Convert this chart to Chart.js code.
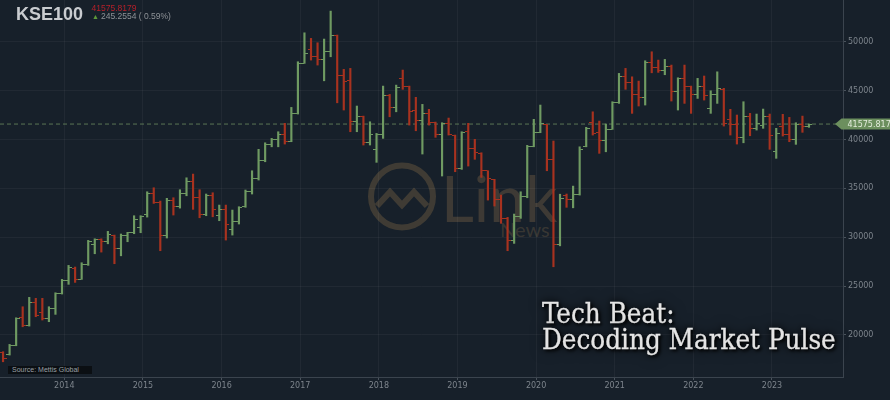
<!DOCTYPE html>
<html>
<head>
<meta charset="utf-8">
<script src="https://cdn.jsdelivr.net/npm/chart.js@4.4.0/dist/chart.umd.min.js"></script>
<style>
  html, body { margin:0; padding:0; background:#17202a; width:890px; height:400px; overflow:hidden; }
  #wrap { position:relative; width:890px; height:400px; }
  #c { position:absolute; left:0; top:0; z-index:2; }
  #wm { position:absolute; left:0; top:0; z-index:1; }
  .ov { position:absolute; z-index:3; white-space:nowrap; }
  #ttl { left:16px; top:5px; font:bold 18px/18px "Liberation Sans", Arial, sans-serif; color:#c9ccd0; }
  #px { left:91.5px; top:3.5px; font:8.5px/8.5px "Liberation Sans", Arial, sans-serif; color:#b5202a; }
  #chg { left:92px; top:12.3px; font:8.5px/8.5px "Liberation Sans", Arial, sans-serif; color:#8e9297; }
  #chg b { color:#5f9a3a; font-weight:normal; font-size:7px; margin-right:2px; }
  #src { left:8px; top:366px; width:84px; height:8px; background:#0b0f13; font:7px/8px "Liberation Sans", Arial, sans-serif; color:#9aa0a6; padding-left:4px; box-sizing:border-box; }
  #tag { left:542px; top:300px; font:27.5px/26px "DejaVu Serif", serif; font-stretch:condensed; color:#e4e4e4;
         -webkit-text-stroke:0.3px #e4e4e4;
         text-shadow:0 0 6px rgba(0,0,0,0.95), 0 0 14px rgba(0,0,0,0.85), 2px 2px 3px #000; }
</style>
</head>
<body>
<div id="wrap">
  <svg id="wm" width="890" height="400">
    <circle cx="402" cy="196.5" r="31" fill="none" stroke="rgba(120,98,66,0.42)" stroke-width="6"/>
    <polyline points="377,206 390,192 402,205 414,192 427,206" fill="none" stroke="rgba(120,98,66,0.42)" stroke-width="6" stroke-linejoin="miter"/>
    <text x="441" y="222" font-family="Lato" font-size="64" fill="rgba(110,92,66,0.45)">Link</text>
    <text x="500" y="237" font-family="Lato" font-size="20" fill="rgba(110,92,66,0.40)">News</text>
  </svg>
  <canvas id="c" width="890" height="400"></canvas>
  <div class="ov" id="ttl">KSE100</div>
  <div class="ov" id="px"></div>
  <div class="ov" id="chg"></div>
  <div class="ov" id="src">Source: Mettis Global</div>
  <div class="ov" id="tag">Tech Beat:<br>Decoding Market Pulse</div>
</div>
<script>
// ---- data (monthly OHLC, KSE100) ----
const months = [
  '2013-03','2013-04','2013-05','2013-06','2013-07','2013-08','2013-09','2013-10','2013-11','2013-12',
  '2014-01','2014-02','2014-03','2014-04','2014-05','2014-06','2014-07','2014-08','2014-09','2014-10','2014-11','2014-12',
  '2015-01','2015-02','2015-03','2015-04','2015-05','2015-06','2015-07','2015-08','2015-09','2015-10','2015-11','2015-12',
  '2016-01','2016-02','2016-03','2016-04','2016-05','2016-06','2016-07','2016-08','2016-09','2016-10','2016-11','2016-12',
  '2017-01','2017-02','2017-03','2017-04','2017-05','2017-06','2017-07','2017-08','2017-09','2017-10','2017-11','2017-12',
  '2018-01','2018-02','2018-03','2018-04','2018-05','2018-06','2018-07','2018-08','2018-09','2018-10','2018-11','2018-12',
  '2019-01','2019-02','2019-03','2019-04','2019-05','2019-06','2019-07','2019-08','2019-09','2019-10','2019-11','2019-12',
  '2020-01','2020-02','2020-03','2020-04','2020-05','2020-06','2020-07','2020-08','2020-09','2020-10','2020-11','2020-12',
  '2021-01','2021-02','2021-03','2021-04','2021-05','2021-06','2021-07','2021-08','2021-09','2021-10','2021-11','2021-12',
  '2022-01','2022-02','2022-03','2022-04','2022-05','2022-06','2022-07','2022-08','2022-09','2022-10','2022-11','2022-12',
  '2023-01','2023-02','2023-03','2023-04','2023-05','2023-06'
];
const opens = [
  18200,18000,18950,21800,20950,23300,22300,21700,22750,24250,
  25600,26800,25700,27250,29300,29800,29600,30200,28800,30200,30450,31000,
  32300,34450,33600,30200,33750,33100,34450,35750,34100,32300,34250,32200,
  32800,30800,31600,33100,34640,36040,37800,39530,39950,40550,39770,42620,
  47810,49200,48530,48150,49000,50600,46570,46000,41800,42300,39700,39000,
  40470,44500,43240,46200,45450,43000,41900,42700,41750,40500,41650,40400,
  37070,40800,39060,38600,36790,35900,33900,31940,29670,32080,34200,39290,
  40740,41500,37980,29230,34300,33900,34420,39300,41700,40700,39890,41070,
  43760,46400,45870,44590,44260,47900,47400,47060,47420,44900,46190,45370,
  44600,45380,43200,44600,45100,42000,41540,40150,42350,41130,41400,42350,
  38800,41300,40520,40000,41580,41330
];
const highs = [
  18290,19040,21760,22890,23850,23750,23750,22890,24320,25690,
  27120,26950,27390,29680,29840,29840,30600,30220,30330,30500,32200,32200,
  34650,35060,33700,33980,34040,34860,36080,36460,34860,34420,34550,33290,
  33290,32780,33120,34830,36800,38990,39660,40110,40790,41650,43280,47950,
  50910,50340,49890,50270,53130,50680,47170,47270,43420,42390,41810,40620,
  45460,44610,45560,47100,45460,44310,43590,43080,41780,41710,42190,40450,
  40790,41650,40010,38640,36800,35920,34310,32030,32370,34650,39400,42060,
  43520,41540,39840,34400,34420,35230,39250,41240,42830,41880,41580,43860,
  46760,47270,46410,45970,48050,48970,48120,48190,47610,46310,47610,45460,
  46250,46490,44980,46920,45230,43080,42500,43860,42670,42600,43110,42600,
  41140,42570,42260,41710,42390,41580
];
const lows = [
  17260,17950,18900,20840,20910,21870,21530,21360,22110,24190,
  25180,25380,25690,27120,28310,28480,29330,27290,28100,29540,30360,30460,
  32060,33460,28620,29920,32270,32980,34240,32850,31990,32200,32090,31690,
  29710,30220,31350,33060,34420,35850,37720,39250,39250,39530,39770,42600,
  47780,48120,47610,46000,48460,43750,43010,40790,40790,39430,39430,37660,
  40110,42320,42830,45130,41470,40890,38510,41470,40220,36260,40450,36700,
  36940,37280,37970,36120,33800,33190,31420,28620,29370,31930,34040,39250,
  40690,36800,26980,29120,33060,33010,34310,39250,40450,38580,38740,41030,
  43690,45130,42670,43420,43520,46820,46860,46620,43930,43010,43690,42670,
  44200,44030,42670,43690,41370,40450,39530,39660,40380,40960,41140,38990,
  38070,40350,39770,39500,40730,41240
];
const closes = [
  17600,18950,21700,20950,23300,21950,21650,22750,24250,25600,
  26950,25700,27250,29550,29750,29600,30300,28800,30200,30450,31800,32100,
  34450,33600,30200,33750,33100,34450,35750,34100,32300,34250,32850,32800,
  31300,31600,33050,34640,36040,37800,39530,39950,40550,39770,42620,47810,
  48760,48530,48150,49000,50600,46570,45900,41800,42400,39700,40500,40470,
  44500,43240,45300,45450,42900,41900,42700,41750,40500,41650,40500,37070,
  40700,39060,38650,36800,35980,33900,31940,29670,32080,34200,39290,40740,
  41630,37980,29230,33930,33900,34420,38950,41110,40570,39890,41070,43760,
  46390,45870,44590,44260,47900,47360,47060,47420,44900,46190,45370,44600,
  45380,44460,44600,45250,41600,41540,40150,42350,41130,41600,42350,40420,
  40600,40520,40000,41580,41330,41575.8179
];
const yearTicks = [2014, 2015, 2016, 2017, 2018, 2019, 2020, 2021, 2022, 2023];
const priceTicks = [20000, 25000, 30000, 35000, 40000, 45000, 50000];
const lastPrice = 41575.8179;
const lastChange = 245.2554;
const lastChangePct = 0.59;

// ---- header text ----
document.getElementById('px').textContent = lastPrice.toFixed(4);
document.getElementById('chg').innerHTML = '<b>&#9650;</b>' + lastChange.toFixed(4) + ' ( ' + lastChangePct.toFixed(2) + '%)';

// ---- helpers ----
const UP = '#6f9a62', DOWN = '#a8321f';
function monthToX(s) { const p = s.split('-').map(Number); return p[0] + (p[1] - 1 + 0.65) / 12; }
function isUp(i) { return closes[i] >= opens[i]; }
function tickImg(color, side) {
  const c = document.createElement('canvas');
  c.width = 7; c.height = 1;
  const g = c.getContext('2d');
  g.fillStyle = color;
  if (side === 'left') g.fillRect(0, 0, 3, 1); else g.fillRect(4, 0, 3, 1);
  return c;
}
const openUp = tickImg(UP, 'left'), openDn = tickImg(DOWN, 'left');
const closeUp = tickImg(UP, 'right'), closeDn = tickImg(DOWN, 'right');

const xs = months.map(monthToX);
const wickData = xs.map((x, i) => ({ x: x, y: [lows[i], highs[i]] }));
const openData = xs.map((x, i) => ({ x: x, y: opens[i] }));
const closeData = xs.map((x, i) => ({ x: x, y: closes[i] }));

const lastLine = {
  id: 'lastLine',
  beforeDatasetsDraw(chart) {
    const { ctx, chartArea, scales } = chart;
    const y = scales.y.getPixelForValue(lastPrice);
    ctx.save();
    ctx.strokeStyle = 'rgba(112,145,100,0.75)';
    ctx.lineWidth = 1;
    ctx.setLineDash([4, 3]);
    ctx.beginPath();
    ctx.moveTo(chartArea.left, y);
    ctx.lineTo(chartArea.right, y);
    ctx.stroke();
    ctx.restore();
  },
  afterDraw(chart) {
    const { ctx, chartArea, scales } = chart;
    const y = scales.y.getPixelForValue(lastPrice);
    const r = chartArea.right;
    ctx.save();
    ctx.fillStyle = '#6c8f5e';
    ctx.beginPath();
    ctx.moveTo(r - 8, y);
    ctx.lineTo(r - 1.5, y - 5.5);
    ctx.lineTo(chart.width, y - 5.5);
    ctx.lineTo(chart.width, y + 5.5);
    ctx.lineTo(r - 1.5, y + 5.5);
    ctx.closePath();
    ctx.fill();
    ctx.fillStyle = '#e3ecdc';
    ctx.font = '8px "DejaVu Sans"';
    ctx.textBaseline = 'middle';
    ctx.textAlign = 'left';
    ctx.fillText(lastPrice.toFixed(4), r + 4.5, y + 0.5);
    ctx.restore();
  }
};

const tickFont = { family: 'DejaVu Sans', size: 8 };
const gridCol = 'rgba(255,255,255,0.045)';

new Chart(document.getElementById('c'), {
  type: 'bar',
  data: {
    datasets: [
      { type: 'bar', data: wickData, barThickness: 1.5, borderWidth: 0,
        backgroundColor: (c) => isUp(c.dataIndex) ? UP : DOWN },
      { type: 'scatter', data: openData, pointRadius: 3,
        pointStyle: (c) => isUp(c.dataIndex) ? openUp : openDn },
      { type: 'scatter', data: closeData, pointRadius: 3,
        pointStyle: (c) => isUp(c.dataIndex) ? closeUp : closeDn }
    ]
  },
  options: {
    responsive: false,
    animation: false,
    events: [],
    layout: { padding: 0, autoPadding: false },
    plugins: { legend: { display: false }, tooltip: { enabled: false }, title: { display: false } },
    scales: {
      x: {
        type: 'linear', min: 2013.1822, max: 2023.9033, offset: false,
        grid: { color: gridCol, tickColor: '#4a535c', tickLength: 3, offset: false },
        border: { display: true, color: '#3b444e' },
        ticks: { color: '#7d848c', font: tickFont, padding: 1, maxRotation: 0, autoSkip: false,
                 callback: (v) => String(v) },
        afterBuildTicks: (s) => { s.ticks = yearTicks.map(v => ({ value: v })); },
        afterFit: (s) => { s.height = 23; s.paddingLeft = 0; s.paddingRight = 0; s.paddingTop = 0; s.paddingBottom = 0; }
      },
      y: {
        type: 'linear', position: 'right', min: 15704, max: 54265,
        grid: { color: gridCol, tickColor: '#4a535c', tickLength: 3 },
        border: { display: true, color: '#3b444e' },
        ticks: { color: '#7d848c', font: tickFont, padding: 2, callback: (v) => String(v) },
        afterBuildTicks: (s) => { s.ticks = priceTicks.map(v => ({ value: v })); },
        afterFit: (s) => { s.width = 47; s.paddingTop = 0; s.paddingBottom = 0; s.paddingLeft = 0; s.paddingRight = 0; }
      }
    }
  },
  plugins: [lastLine]
});
</script>
</body>
</html>
